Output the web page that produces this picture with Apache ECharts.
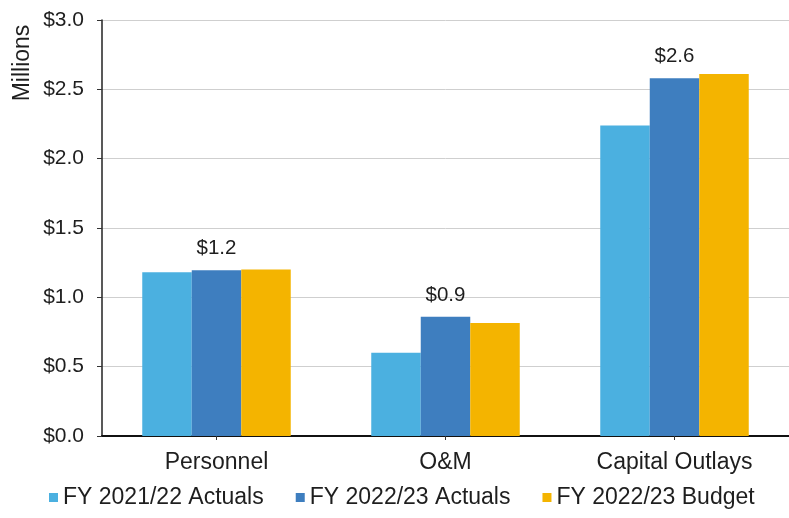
<!DOCTYPE html>
<html>
<head>
<meta charset="utf-8">
<script src="https://cdn.jsdelivr.net/npm/echarts@6/dist/echarts.min.js"></script>
<style>
  html, body { margin: 0; padding: 0; background: #fff; }
  #chart { width: 789px; height: 518px; }
</style>
</head>
<body>
<div id="chart"></div>
<script>
// Spending by category, in millions of dollars
const categories = ['Personnel', 'O&M', 'Capital Outlays'];
const seriesNames = ['FY 2021/22 Actuals', 'FY 2022/23 Actuals', 'FY 2022/23 Budget'];
const actuals2122 = [1.18, 0.60, 2.24];
const actuals2223 = [1.195, 0.86, 2.58];
const budget2223 = [1.20, 0.815, 2.61];
const yTicks = [0, 0.5, 1.0, 1.5, 2.0, 2.5, 3.0];

const colors = ['#4bb0e0', '#3e7ebf', '#f4b400'];
const fontFamily = 'Liberation Sans, Arial, sans-serif';
const textColor = '#1e1e1e';
const money = v => '$' + Number(v).toFixed(1);

const chart = echarts.init(document.getElementById('chart'), null, { renderer: 'canvas' });

function barSeries(name, data, color, withLabel) {
  return {
    name: name,
    type: 'bar',
    data: data,
    barWidth: 49.5,
    barGap: '0%',
    itemStyle: { color: color },
    label: {
      show: withLabel,
      position: 'top',
      distance: 11,
      formatter: p => money(p.value),
      color: textColor,
      fontFamily: fontFamily,
      fontSize: 20.5
    }
  };
}

chart.setOption({
  animation: false,
  color: colors,
  grid: { left: 102, top: 20, bottom: 82, width: 693, containLabel: false },
  legend: {
    bottom: 4,
    left: 44,
    icon: 'rect',
    itemWidth: 9,
    itemHeight: 9,
    itemGap: 32,
    textStyle: { color: textColor, fontFamily: fontFamily, fontSize: 23 },
    data: seriesNames
  },
  graphic: [{
    type: 'text',
    x: 23,
    y: 63,
    rotation: Math.PI / 2,
    style: {
      text: 'Millions',
      fill: textColor,
      font: '23px ' + fontFamily,
      textAlign: 'center',
      textVerticalAlign: 'middle'
    }
  }],
  xAxis: {
    type: 'category',
    data: categories,
    axisLine: { lineStyle: { color: '#111', width: 2 } },
    axisTick: { show: true, alignWithLabel: true, length: 4, lineStyle: { color: '#333' } },
    axisLabel: { color: textColor, fontFamily: fontFamily, fontSize: 23, margin: 15 }
  },
  yAxis: {
    type: 'value',
    min: yTicks[0],
    max: yTicks[yTicks.length - 1],
    interval: yTicks[1] - yTicks[0],
    axisLine: { show: true, lineStyle: { color: '#222', width: 1.5 } },
    axisTick: { show: true, length: 5, lineStyle: { color: '#333' } },
    axisLabel: { color: textColor, fontFamily: fontFamily, fontSize: 21, margin: 18, formatter: money },
    splitLine: { show: true, lineStyle: { color: '#cfcfcf', width: 1 } }
  },
  series: [
    barSeries(seriesNames[0], actuals2122, colors[0], false),
    barSeries(seriesNames[1], actuals2223, colors[1], true),
    barSeries(seriesNames[2], budget2223, colors[2], false)
  ]
});
</script>
</body>
</html>
